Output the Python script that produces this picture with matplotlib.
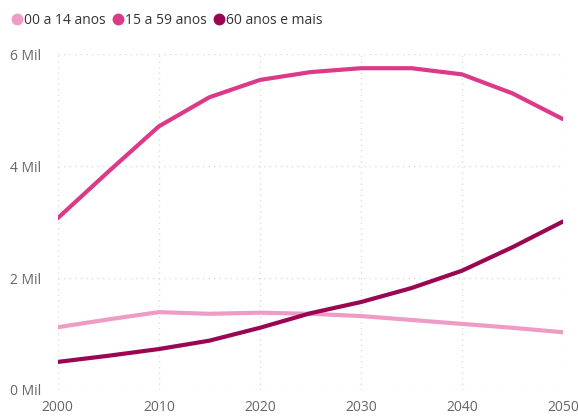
import matplotlib.pyplot as plt
from matplotlib.lines import Line2D

# data (millions)
years = [2000, 2005, 2010, 2015, 2020, 2025, 2030, 2035, 2040, 2045, 2050]
kids = [1.12, 1.26, 1.39, 1.36, 1.38, 1.36, 1.32, 1.25, 1.18, 1.11, 1.03]
adults = [3.07, 3.90, 4.71, 5.23, 5.54, 5.68, 5.75, 5.75, 5.64, 5.30, 4.84]
seniors = [0.50, 0.61, 0.73, 0.88, 1.11, 1.37, 1.57, 1.82, 2.13, 2.55, 3.01]
labels = ['00 a 14 anos', '15 a 59 anos', '60 anos e mais']
colors = ['#ee9cc6', '#dc3a88', '#9a0652']

plt.rcParams['font.family'] = ['Open Sans', 'DejaVu Sans']

fig = plt.figure(figsize=(5.78, 4.17), dpi=100)
ax = fig.add_axes([0.100, 0.065, 0.874, 0.805])

for series, c in zip([kids, adults, seniors], colors):
    ax.plot(years, series, color=c, lw=3.0, solid_capstyle='round', solid_joinstyle='round')

ax.set_xlim(2000, 2050)
ax.set_ylim(0, 6)
ax.set_xticks([2000, 2010, 2020, 2030, 2040, 2050])
ax.set_yticks([0, 2, 4, 6])
ax.set_yticklabels([f'{v} Mil' for v in [0, 2, 4, 6]])
ax.grid(True, color='#dddddd', linestyle=(0, (1, 3)), lw=1)
for s in ax.spines.values():
    s.set_visible(False)
ax.tick_params(length=0, colors='#666666', labelsize=10)
ax.tick_params(axis='y', pad=12)
ax.tick_params(axis='x', pad=7)

handles = [Line2D([], [], marker='o', ls='none', color=c, markersize=7.5) for c in colors]
fig.legend(handles, labels, loc='upper left', bbox_to_anchor=(-0.002, 1.0), ncol=3,
           frameon=False, handletextpad=0.1, columnspacing=0.5, fontsize=10,
           labelcolor='#333333', handlelength=0.8)

plt.savefig('out.png')
